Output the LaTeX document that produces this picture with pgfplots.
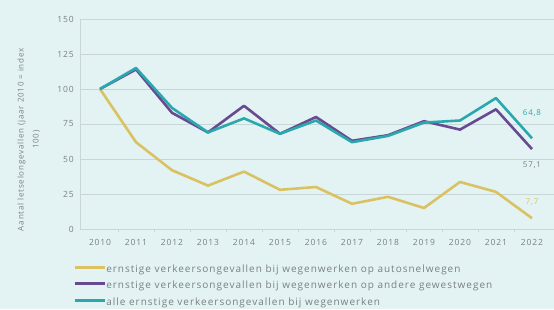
\documentclass[border=0pt]{standalone}
\usepackage{pgfplots}
\pgfplotsset{compat=1.18}
\usepackage{fontspec}
\setmainfont{Open Sans}[LetterSpace=10]
\definecolor{bg}{RGB}{227,243,244}
\definecolor{cyel}{RGB}{218,194,98}
\definecolor{cpur}{RGB}{104,74,145}
\definecolor{cteal}{RGB}{42,168,174}
\definecolor{cgrid}{RGB}{200,214,215}
\definecolor{ctxt}{RGB}{120,128,130}
\begin{document}
\begin{tikzpicture}
\path[use as bounding box, fill=bg] (0pt,0pt) rectangle (554pt,309pt);
\begin{axis}[
  at={(80.2pt,80pt)}, anchor=south west,
  scale only axis, width=473.4pt, height=210pt,
  xmin=2009.45, xmax=2022.6, ymin=0, ymax=150,
  xtick={2010,...,2022},
  extra x ticks={2010.5,2011.5,...,2021.5},
  extra x tick labels={},
  extra x tick style={major tick length=3pt, tick style={draw=cgrid}, tick align=outside, grid=none},
  major tick length=0pt,
  ytick={0,25,...,150},
  ymajorgrids, grid style={cgrid, line width=0.6pt},
  axis x line*=bottom, axis y line*=left,
  axis line style={cgrid, line width=0.6pt},
  x axis line style={-}, y axis line style={-},
  xticklabel style={/pgf/number format/1000 sep={}, font=\fontsize{8.5}{9}\selectfont, text=ctxt, yshift=-7pt},
  yticklabel style={font=\fontsize{8.5}{9}\selectfont, text=ctxt, xshift=-3pt},
  /pgf/number format/assume math mode=true,
  /pgf/number format/1000 sep={},
  ylabel={Aantal letselongevallen (jaar 2010 = index\\100)},
  ylabel style={align=center, font=\fontsize{8}{15}\selectfont, text=ctxt, at={(axis description cs:-0.109,0.425)}, anchor=center},
  legend style={at={(axis description cs:-0.015,-0.172)}, anchor=north west, draw=none, fill=none,
    font=\fontsize{10}{10}\selectfont, text=ctxt, row sep=7.5pt, inner sep=0pt,
    nodes={text height=7pt, text depth=2pt, inner sep=0pt},
    /tikz/every even column/.append style={column sep=0pt}},
  legend cell align=left,
  legend image code/.code={\draw[#1, line width=3pt] (0pt,2.5pt) -- (30pt,2.5pt);},
  clip=false,
]
\addplot[cyel, line width=2.6pt, line join=round] coordinates {
(2010,100) (2011,62) (2012,42) (2013,31) (2014,41) (2015,28) (2016,30) (2017,18) (2018,23) (2019,15) (2020,33.6) (2021,26.5) (2022,7.7)};
\addlegendentry{ernstige verkeersongevallen bij wegenwerken op autosnelwegen}
\addplot[cpur, line width=2.6pt, line join=round] coordinates {
(2010,100) (2011,114) (2012,83) (2013,69) (2014,88) (2015,68) (2016,80) (2017,63) (2018,67) (2019,77) (2020,71) (2021,85.5) (2022,57.1)};
\addlegendentry{ernstige verkeersongevallen bij wegenwerken op andere gewestwegen}
\addplot[cteal, line width=2.6pt, line join=round] coordinates {
(2010,100) (2011,115) (2012,86.5) (2013,69) (2014,79) (2015,68) (2016,77.5) (2017,62) (2018,66.5) (2019,76) (2020,77.5) (2021,93.5) (2022,64.8)};
\addlegendentry{alle ernstige verkeersongevallen bij wegenwerken}
\node[font=\fontsize{8}{9}\selectfont, text=cteal] at (axis cs:2022,83) {64,8};
\node[font=\fontsize{8}{9}\selectfont, text=ctxt] at (axis cs:2022,45.7) {57,1};
\node[font=\fontsize{8}{9}\selectfont, text=cyel] at (axis cs:2022,19.3) {7,7};
\end{axis}
\end{tikzpicture}
\end{document}
